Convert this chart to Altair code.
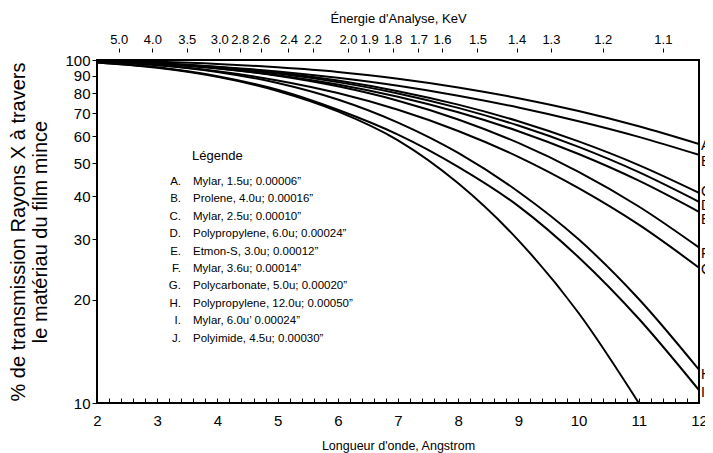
import altair as alt
import pandas as pd

# ---------------- data ----------------
wavelength = [2, 3, 4, 5, 6, 7, 8, 9, 10, 11, 12]
curve_A = [99.6, 98.8, 97.4, 95.2, 92.3, 88.2, 83.2, 77.4, 71.0, 64.1, 56.9]
curve_B = [99.2, 97.8, 95.6, 92.6, 88.7, 84.1, 78.7, 72.7, 66.3, 59.7, 52.9]
curve_C = [99.3, 97.9, 95.4, 91.9, 87.1, 81.1, 74.1, 66.3, 57.9, 49.4, 41.0]
curve_D = [99.2, 97.7, 95.1, 91.3, 86.2, 79.9, 72.5, 64.4, 55.8, 47.1, 38.6]
curve_E = [99.1, 97.4, 94.5, 90.3, 84.8, 78.1, 70.4, 62.0, 53.2, 44.5, 36.1]
curve_F = [99.2, 97.6, 94.6, 90.0, 83.8, 76.1, 67.1, 57.3, 47.2, 37.4, 28.4]
curve_G = [98.8, 96.5, 92.7, 87.2, 80.1, 71.6, 62.1, 52.2, 42.3, 33.1, 24.8]
curve_H = [99.0, 96.7, 92.3, 85.7, 76.7, 65.7, 53.6, 41.3, 30.0, 20.1, 12.5]
curve_I = [98.4, 95.2, 89.7, 81.9, 71.6, 60.6, 48.8, 37.5, 26.6, 17.6, 10.9]
curve_J = [98.3, 94.9, 89.3, 81.2, 70.8, 58.3, 43.7, 29.8, 18.3, 10.0]

curve_names = ["A", "B", "C", "D", "E", "F", "G", "H", "I", "J"]
curve_values = [curve_A, curve_B, curve_C, curve_D, curve_E,
                curve_F, curve_G, curve_H, curve_I, curve_J]

# end-of-line labels (value at right edge)
end_labels = ["A", "B", "C", "D", "E", "F", "G", "H", "I"]
end_label_values = [56.0, 50.5, 41.2, 37.5, 34.1, 27.2, 24.5, 12.1, 10.7]

legend_title = "Légende"
legend_letters = ["A.", "B.", "C.", "D.", "E.", "F.", "G.", "H.", "I.", "J."]
legend_texts = [
    "Mylar, 1.5u; 0.00006\u201d",
    "Prolene, 4.0u; 0.00016\u201d",
    "Mylar, 2.5u; 0.00010\u201d",
    "Polypropylene, 6.0u; 0.00024\u201d",
    "Etmon-S, 3.0u; 0.00012\u201d",
    "Mylar, 3.6u; 0.00014\u201d",
    "Polycarbonate, 5.0u; 0.00020\u201d",
    "Polypropylene, 12.0u; 0.00050\u201d",
    "Mylar, 6.0u\u2019 0.00024\u201d",
    "Polyimide, 4.5u; 0.00030\u201d",
]

# top axis: energy labels and their positions on the wavelength scale
energy_labels = ["5.0", "4.0", "3.5", "3.0", "2.8", "2.6", "2.4", "2.2", "2.0",
                 "1.9", "1.8", "1.7", "1.6", "1.5", "1.4", "1.3", "1.2", "1.1"]
energy_positions = [2.36, 2.92, 3.49, 4.03, 4.37, 4.72, 5.18, 5.58, 6.17,
                    6.52, 6.91, 7.34, 7.73, 8.32, 8.97, 9.54, 10.40, 11.40]

y_ticks = [10, 20, 30, 40, 50, 60, 70, 80, 90, 100]
x_minor_ticks = [round(2 + 0.2 * i, 1) for i in range(51)]

# ---------------- tables ----------------
rows = []
for name, vals in zip(curve_names, curve_values):
    for wl, v in zip(wavelength, vals):
        rows.append({"wl": wl, "T": v, "curve": name})
df = pd.DataFrame(rows)

end_df = pd.DataFrame({"label": end_labels, "T": end_label_values,
                       "wl": [12] * len(end_labels)})
leg_df = pd.DataFrame({"letters": ["\n".join(legend_letters)],
                       "texts": ["\n".join(legend_texts)],
                       "title": [legend_title]})
top_df = pd.DataFrame({"pos": energy_positions, "lab": energy_labels})

FONT = "Liberation Sans"
W, H = 602, 343

x_scale = alt.Scale(domain=[2, 12], nice=False, zero=False)
y_scale = alt.Scale(type="log", domain=[10, 100], nice=False)

x_axis = alt.Axis(
    title="Longueur d'onde, Angstrom", values=x_minor_ticks,
    labelExpr="abs(datum.value - round(datum.value)) < 0.001 ? format(datum.value, 'd') : ''",
    orient="bottom", offset=-5, domain=False, grid=False,
    tickSize=5, tickColor="black", tickWidth=1,
    labelFontSize=15, labelColor="black", labelPadding=10,
    labelFlush=False, labelOverlap=False,
    titleFontSize=12.5, titleFontWeight="normal", titleColor="black", titlePadding=11,
)
y_axis = alt.Axis(
    title=["% de transmission Rayons X à travers", "le matériau du film mince"],
    values=y_ticks, format="d", orient="left", domain=False, grid=False,
    tickSize=5, tickColor="black", tickWidth=1,
    labelFontSize=15, labelColor="black", labelPadding=2, labelOverlap=False,
    titleFontSize=20, titleFontWeight="normal", titleColor="black",
    titlePadding=14, titleLineHeight=22,
)

lines = alt.Chart(df).mark_line(
    color="black", strokeWidth=2, interpolate="monotone", clip=True
).encode(
    x=alt.X("wl:Q", scale=x_scale, axis=x_axis),
    y=alt.Y("T:Q", scale=y_scale, axis=y_axis),
    detail="curve:N",
)

top_expr = " : ".join(
    f"datum.value == {p} ? '{l}'" for p, l in zip(energy_positions, energy_labels)
) + " : ''"
top_axis_layer = alt.Chart(top_df).mark_point(opacity=0).encode(
    x=alt.X("pos:Q", scale=x_scale, axis=alt.Axis(
        title="Énergie d'Analyse, KeV", orient="top", values=energy_positions,
        labelExpr=top_expr, offset=8, domain=False, grid=False,
        tickSize=4, tickColor="black", tickWidth=1,
        labelFontSize=13, labelColor="black", labelPadding=2,
        labelFlush=False, labelOverlap=False,
        titleFontSize=13, titleFontWeight="normal", titleColor="black",
        titlePadding=8,
    )),
)

end_text = alt.Chart(end_df).mark_text(
    align="left", baseline="middle", dx=2, fontSize=14, color="black", font=FONT
).encode(
    x=alt.X("wl:Q", scale=x_scale, axis=None),
    y=alt.Y("T:Q", scale=y_scale, axis=y_axis),
    text="label:N",
)

leg_title = alt.Chart(leg_df).mark_text(
    align="left", baseline="middle", fontSize=13, color="black", font=FONT
).encode(x=alt.value(95), y=alt.value(96), text="title:N")

leg_letters = alt.Chart(leg_df).mark_text(
    align="right", baseline="middle", fontSize=11.5, color="black", font=FONT,
    lineBreak="\n", lineHeight=17.4
).encode(x=alt.value(84), y=alt.value(122), text="letters:N")

leg_items = alt.Chart(leg_df).mark_text(
    align="left", baseline="middle", fontSize=11.5, color="black", font=FONT,
    lineBreak="\n", lineHeight=17.4
).encode(x=alt.value(96), y=alt.value(122), text="texts:N")

chart = alt.layer(
    lines, top_axis_layer, end_text, leg_title, leg_letters, leg_items
).resolve_axis(x="independent").properties(
    width=W, height=H,
    autosize=alt.AutoSizeParams(type="none"),
    padding={"left": 89, "top": 52, "right": 6, "bottom": 50},
).configure(font=FONT).configure_view(
    stroke="black", strokeWidth=2
).configure_axis(labelFont=FONT, titleFont=FONT)

chart.save("out.html", embed_options={"renderer": "svg", "actions": False})
